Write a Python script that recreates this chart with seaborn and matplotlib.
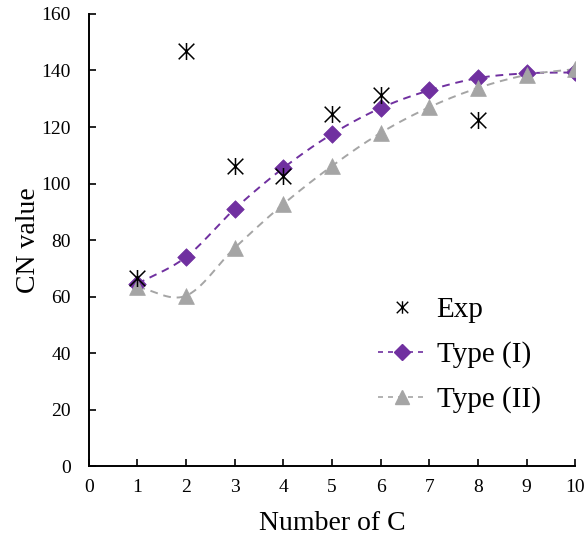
import numpy as np
import pandas as pd
import matplotlib
matplotlib.use("Agg")
import matplotlib.pyplot as plt
from matplotlib.lines import Line2D
from matplotlib.path import Path
import seaborn as sns

# data
exp_c = [1, 2, 3, 4, 5, 6, 8]
exp_cn = [66.5, 146.9, 106.2, 102.7, 124.6, 131.3, 122.5]

type_c = [1, 2, 3, 4, 5, 6, 7, 8, 9, 10]
type1_cn = [64.5, 74.0, 91.0, 105.5, 117.5, 126.7, 133.0, 137.3, 139.0, 139.3]
type2_cn = [63.4, 60.3, 77.2, 92.7, 106.2, 117.9, 127.0, 133.8, 138.4, 140.5]

PURPLE = "#7030A0"
GREY = "#A5A5A5"

# asterisk: vertical bar plus an X
STAR = Path([(0, -1), (0, 1), (-0.92, -0.92), (0.92, 0.92), (-0.92, 0.92), (0.92, -0.92)],
            [Path.MOVETO, Path.LINETO] * 3)


def smooth(x, y, n=30):
    # Catmull-Rom curve through the points, like Excel's smoothed line
    x = np.asarray(x, float)
    y = np.asarray(y, float)
    px = np.concatenate([[2 * x[0] - x[1]], x, [2 * x[-1] - x[-2]]])
    py = np.concatenate([[2 * y[0] - y[1]], y, [2 * y[-1] - y[-2]]])
    xs, ys = [], []
    t = np.linspace(0, 1, n)
    for i in range(1, len(px) - 2):
        for p, out in ((px, xs), (py, ys)):
            p0, p1, p2, p3 = p[i - 1], p[i], p[i + 1], p[i + 2]
            out.extend(0.5 * (2 * p1 + (-p0 + p2) * t
                              + (2 * p0 - 5 * p1 + 4 * p2 - p3) * t ** 2
                              + (-p0 + 3 * p1 - 3 * p2 + p3) * t ** 3))
    return pd.DataFrame({"x": xs, "y": ys})


sns.set_theme(style="ticks")
plt.rcParams["font.family"] = ["Liberation Serif", "DejaVu Serif"]
plt.rcParams["text.color"] = "black"

fig = plt.figure(figsize=(5.84, 5.37), dpi=100)
ax = fig.add_axes([0.152, 0.132, 0.833, 0.842])

for ys, col, mk, ms in ((type1_cn, PURPLE, "D", 80), (type2_cn, GREY, "^", 130)):
    curve = smooth(type_c, ys)
    sns.lineplot(data=curve, x="x", y="y", ax=ax, color=col, sort=False,
                 estimator=None, linewidth=1.4, linestyle=(0, (4, 3)))
    sns.scatterplot(x=type_c, y=ys, ax=ax, color=col, marker=mk, s=ms,
                    edgecolor=col, linewidth=0.5, zorder=3)

sns.scatterplot(x=exp_c, y=exp_cn, ax=ax, marker=STAR, s=150,
                color="black", edgecolor="black", linewidth=1.1, zorder=4)

ax.set_xlim(0, 10)
ax.set_ylim(0, 160)
ax.set_xticks(range(0, 11))
ax.set_yticks(range(0, 161, 20))
ax.tick_params(direction="in", length=5, width=1.2, labelsize=14, colors="black", pad=9)
ax.tick_params(axis="y", pad=13)
for s in ("top", "right"):
    ax.spines[s].set_visible(False)
for s in ("left", "bottom"):
    ax.spines[s].set_linewidth(1.4)
    ax.spines[s].set_color("black")
ax.set_xlabel("Number of C", fontsize=20, labelpad=11, color="black")
ax.set_ylabel("CN value", fontsize=20, labelpad=0, color="black")

handles = [
    Line2D([], [], color="black", marker=STAR, markersize=9, markeredgewidth=1.0, linestyle="none"),
    Line2D([], [], color=PURPLE, marker="D", markersize=8, linestyle=(0, (3, 3)), linewidth=1.2),
    Line2D([], [], color=GREY, marker="^", markersize=10, linestyle=(0, (3, 3)), linewidth=1.2),
]
ax.legend(handles, ["Exp", "Type (I)", "Type (II)"], loc="upper left",
          bbox_to_anchor=(0.595, 0.374), frameon=False, fontsize=21,
          borderpad=0, borderaxespad=0,
          handlelength=1.6, handletextpad=0.4, labelspacing=0.62)

fig.savefig("out.png", dpi=100)
